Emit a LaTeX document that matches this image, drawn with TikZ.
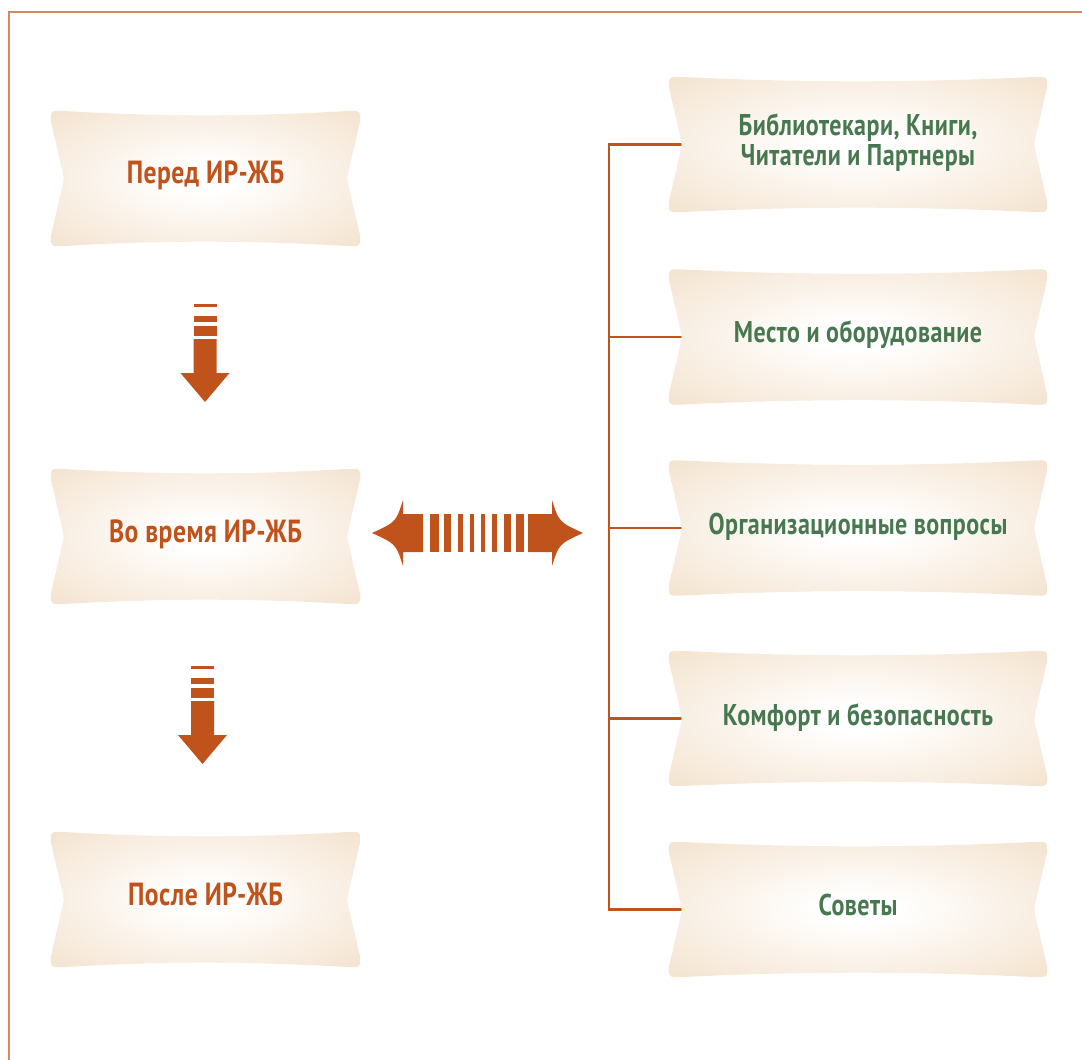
\documentclass[tikz,border=0pt]{standalone}
\usepackage{fontspec}
\setmainfont{PT Sans}[FakeStretch=0.8, LetterSpace=1.5]
\usetikzlibrary{calc,backgrounds}
\pgfdeclarelayer{lines}
\pgfdeclarelayer{shapes}
\pgfsetlayers{lines,shapes,main}
\definecolor{rust}{RGB}{192,82,28}
\definecolor{leafgreen}{RGB}{72,120,80}
\definecolor{boxedge}{RGB}{242,223,200}
\definecolor{boxcorner}{RGB}{238,214,186}
\definecolor{framec}{RGB}{214,134,100}
\pgfdeclareradialshading{boxglow}{\pgfpoint{0bp}{0bp}}{color(0bp)=(white); color(5bp)=(white); color(40bp)=(boxedge); color(60bp)=(boxcorner); color(80bp)=(boxcorner)}
\newcommand\R{10}
\newcommand\bannershape[1]{%
\begin{pgfonlayer}{shapes}
\path[shading=boxglow]
 ($(#1.north west)+(\R,0)$)
 .. controls ($(#1.north west)!.35!(#1.north east)+(0,6)$) and ($(#1.north west)!.65!(#1.north east)+(0,6)$) .. ($(#1.north east)+(-\R,0)$)
 .. controls (#1.north east) .. ($(#1.north east)+(0,\R)$)
 -- ($(#1.east)+(-10.5,-12)$) .. controls ($(#1.east)+(-13.5,0)$) .. ($(#1.east)+(-10.5,12)$)
 -- ($(#1.south east)+(0,-\R)$)
 .. controls (#1.south east) .. ($(#1.south east)+(-\R,0)$)
 .. controls ($(#1.south west)!.65!(#1.south east)+(0,-6)$) and ($(#1.south west)!.35!(#1.south east)+(0,-6)$) .. ($(#1.south west)+(\R,0)$)
 .. controls (#1.south west) .. ($(#1.south west)+(0,-\R)$)
 -- ($(#1.west)+(10.5,12)$) .. controls ($(#1.west)+(13.5,0)$) .. ($(#1.west)+(10.5,-12)$)
 -- ($(#1.north west)+(0,\R)$)
 .. controls (#1.north west) .. cycle;
\end{pgfonlayer}}
\newcommand\downarrowshape[2]{%
 \fill[rust] (#1-11.5,#2) rectangle (#1+11.5,#2+3);
 \fill[rust] (#1-11.5,#2+12) rectangle (#1+11.5,#2+18);
 \fill[rust] (#1-11.5,#2+22) rectangle (#1+11.5,#2+32);
 \fill[rust] (#1-11.5,#2+35) -- (#1+11.5,#2+35) -- (#1+11.5,#2+69) -- (#1+24.5,#2+69)
   -- (#1,#2+98) -- (#1-24.5,#2+69) -- (#1-11.5,#2+69) -- cycle;}
\tikzset{
 leftbox/.style={minimum width=309pt, minimum height=135pt, inner sep=0pt},
 rightbox/.style={minimum width=378pt, minimum height=135pt, inner sep=0pt},
 lefttext/.style={text=rust, font=\bfseries\fontsize{32}{32}\selectfont, anchor=base, inner sep=0pt},
 righttext/.style={text=leafgreen, font=\bfseries\fontsize{30}{30}\selectfont, anchor=base, inner sep=0pt, align=center},
 conn/.style={draw=rust, line width=2.5pt}
}
\begin{document}
\begin{tikzpicture}[x=1pt,y=-1pt]
\useasboundingbox (0,0) rectangle (1082,1060);
\draw[framec, line width=1.5pt] (9,1060) -- (9,12) -- (1082,12);
% left column
\node[leftbox] (l1) at (205.5,178.5) {};
\node[leftbox] (l2) at (205.5,536.5) {};
\node[leftbox] (l3) at (205.5,899.5) {};
\bannershape{l1}\bannershape{l2}\bannershape{l3}
\node[lefttext] (l1t) at ($(l1.center)+(0,5)$) {Перед ИР-ЖБ};
\node[lefttext] (l2t) at ($(l2.center)+(0,5.5)$) {Во время ИР-ЖБ};
\node[lefttext] (l3t) at ($(l3.center)+(0,5.5)$) {После ИР-ЖБ};
% right column
\node[rightbox] (r1) at (858,144.5) {};
\node[rightbox] (r2) at (858,337) {};
\node[rightbox] (r3) at (858,528) {};
\node[rightbox] (r4) at (858,718.5) {};
\node[rightbox] (r5) at (858,909.5) {};
\bannershape{r1}\bannershape{r2}\bannershape{r3}\bannershape{r4}\bannershape{r5}
\node[righttext, anchor=center] (r1t) at ($(r1.center)+(0,-2)$) {Библиотекари, Книги,\\[0pt]Читатели и Партнеры};
\node[righttext] (r2t) at ($(r2.center)+(0,5)$) {Место и оборудование};
\node[righttext] (r3t) at ($(r3.center)+(0,6)$) {Организационные вопросы};
\node[righttext] (r4t) at ($(r4.center)+(0,6.5)$) {Комфорт и безопасность};
\node[righttext] (r5t) at ($(r5.center)+(0,6)$) {Советы};
% connectors
\coordinate (trunk) at (609,0);
\begin{pgfonlayer}{lines}
\draw[conn] (r1.center) -- (r1.center -| trunk) -- (r5.center -| trunk) -- (r5.center);
\draw[conn] (r2.center -| trunk) -- (r2.center);
\draw[conn] (r3.center -| trunk) -- (r3.center);
\draw[conn] (r4.center -| trunk) -- (r4.center);
\end{pgfonlayer}
% down arrows
\downarrowshape{205}{304}
\downarrowshape{202.5}{666}
% double arrow
\fill[rust] (372,533) .. controls (396,522) .. (403,500) -- (403,514) -- (423,514) -- (423,552) -- (403,552) -- (403,566) .. controls (396,544) .. (372,533) -- cycle;
\fill[rust] (583,533) .. controls (559,522) .. (552,500) -- (552,514) -- (528,514) -- (528,552) -- (552,552) -- (552,566) .. controls (559,544) .. (583,533) -- cycle;
\foreach \a/\b in {430/439, 444/451, 458/463, 470/474, 481/485, 492/497, 504/511, 516/524}
  \fill[rust] (\a,514) rectangle (\b,552);
\end{tikzpicture}
\end{document}
